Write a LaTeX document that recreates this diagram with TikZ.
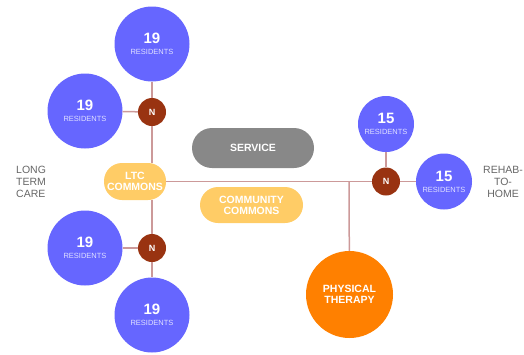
\documentclass[tikz,border=0pt]{standalone}
\usepackage{fontspec}
\setmainfont{Liberation Sans}
\usepackage{xcolor}
\usepackage{tikz}

\definecolor{azul}{HTML}{6666FF}
\definecolor{vinho}{HTML}{993311}
\definecolor{laranja}{HTML}{FF8000}
\definecolor{amarelo}{HTML}{FFCC66}
\definecolor{cinza}{HTML}{888888}
\definecolor{linha}{HTML}{CC9999}
\definecolor{rotulo}{HTML}{666666}
\definecolor{claro}{HTML}{E0E0FF}

\newcommand{\moradores}[1]{{\fontsize{15}{15}\selectfont\bfseries #1}\\[-1pt]{\fontsize{7.5}{9}\selectfont\mdseries\color{claro}RESIDENTS}}

\begin{document}
\begin{tikzpicture}[
		    x=1pt, y=-1pt,
		    every node/.style={inner sep=0pt, text=white, font=\bfseries}
		]
		\tikzset{
		    ligacao/.style={draw=linha, line width=1.5pt},
		    grande/.style={circle, fill=azul, minimum size=75pt, align=center},
		    pequeno/.style={circle, fill=azul, minimum size=56pt, align=center},
		    enf/.style={circle, fill=vinho, minimum size=28pt, font=\bfseries\fontsize{9}{9}\selectfont},
		    sala/.style={rounded corners=18pt, fill=amarelo, minimum height=37pt, align=center, font=\bfseries\fontsize{10.5}{11}\selectfont},
		    servico/.style={rounded corners=20pt, fill=cinza, minimum width=122pt, minimum height=40pt, font=\bfseries\fontsize{10.5}{11}\selectfont},
		    fisio/.style={circle, fill=laranja, minimum size=87pt, align=center, font=\bfseries\fontsize{10.5}{11.5}\selectfont},
		    legenda/.style={text=rotulo, font=\fontsize{10.5}{12}\selectfont}
		}
		\useasboundingbox (0,0) rectangle (524,354);
		% ala de longa permanencia
		\node[sala, minimum width=62pt] (ltc) at (135,181.5) {LTC\\COMMONS};
		\node[enf] (n1) at (152,112) {N};
		\node[enf] (n2) at (152,248) {N};
		\node[grande] (r1) at (152,44) {\moradores{19}};
		\node[grande] (r2) at (85,111) {\moradores{19}};
		\node[grande] (r3) at (85,248) {\moradores{19}};
		\node[grande] (r4) at (152,315) {\moradores{19}};
		\node[legenda, anchor=west, align=left] (longa) at (16,182) {LONG\\TERM\\CARE};
		% centro
		\node[servico] (serv) at (253,148) {SERVICE};
		\node[sala, minimum width=103pt, minimum height=36pt] (comum) at (251.5,205) {COMMUNITY\\COMMONS};
		\node[fisio] (pt) at (349.5,294.5) {PHYSICAL\\THERAPY};
		% reabilitacao
		\node[enf] (n3) at (386,181.5) {N};
		\node[pequeno] (r5) at (386,124) {\moradores{15}};
		\node[pequeno] (r6) at (444,181.5) {\moradores{15}};
		\node[legenda, align=center] (reab) at (503,182) {REHAB-\\TO-\\HOME};
		\coordinate (juncao) at (349,181.5);
		% ligacoes
		\draw[ligacao] (n1) -- (r1);
		\draw[ligacao] (n1) -- (r2);
		\draw[ligacao] (n1) -- (n1 |- ltc.north);
		\draw[ligacao] (n2 |- ltc.south) -- (n2);
		\draw[ligacao] (n2) -- (r3);
		\draw[ligacao] (n2) -- (r4);
		\draw[ligacao] (ltc) -- (n3);
		\draw[ligacao] (juncao) -- (pt);
		\draw[ligacao] (n3) -- (r5);
		\draw[ligacao] (n3) -- (r6);
		\end{tikzpicture}
\end{document}
